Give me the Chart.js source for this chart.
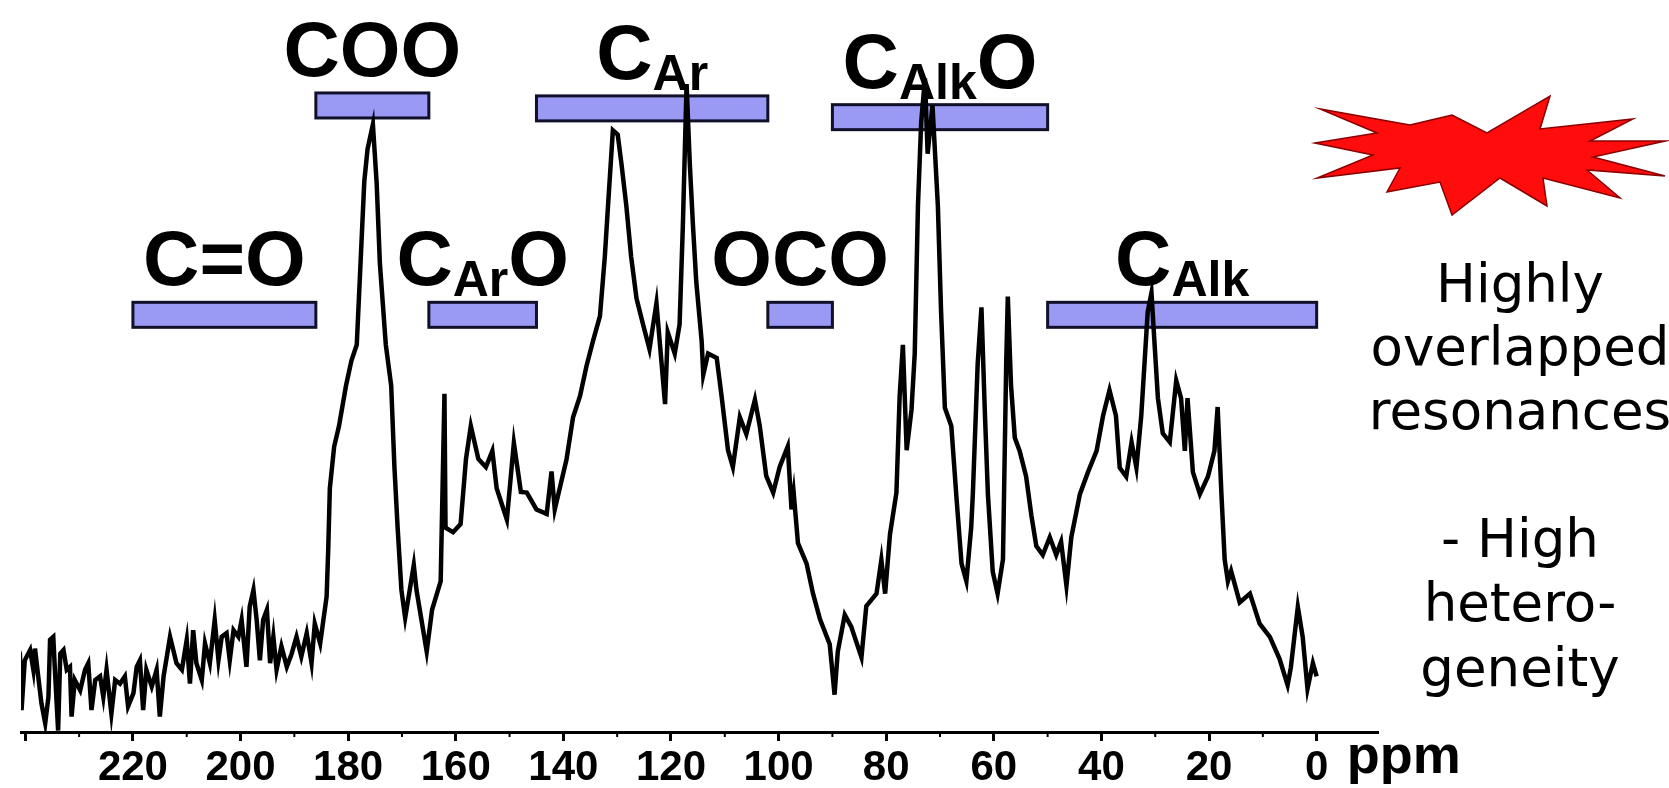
<!DOCTYPE html>
<html>
<head>
<meta charset="utf-8">
<script src="https://cdn.jsdelivr.net/npm/chart.js@4.4.1/dist/chart.umd.min.js"></script>
<style>
    html, body { margin: 0; padding: 0; background: #fff; }
    #wrap { width: 1669px; height: 788px; }
</style>
</head>
<body>
<div id="wrap"><canvas id="nmrChart" width="1669" height="788"></canvas></div>
<script>
// 13C NMR spectrum: chemical shift (ppm) and intensity (% of plot height)
const shiftPpm = [
    241.9, 241.0, 240.7, 240.1, 239.1, 238.5, 238.2, 237.6, 237.0, 236.3, 235.7, 235.4, 234.8, 234.5,
    233.9, 233.5, 232.9, 232.3, 231.7, 231.4, 230.8, 229.8, 228.9, 228.3, 227.7, 227.0, 226.1, 225.5,
    224.9, 224.0, 223.3, 222.4, 221.5, 220.9, 219.9, 219.3, 218.7, 218.1, 217.5, 216.5, 215.6, 215.0,
    214.3, 213.7, 213.1, 212.5, 211.9, 210.9, 210.0, 209.4, 208.8, 208.2, 207.2, 206.6, 205.7, 204.8,
    204.1, 203.5, 202.6, 202.0, 201.3, 200.4, 199.8, 198.9, 198.3, 197.6, 197.0, 196.4, 195.8, 195.1,
    194.5, 193.9, 193.3, 192.4, 191.4, 190.5, 189.6, 188.7, 187.7, 186.8, 186.2, 185.2, 184.6, 184.0,
    183.7, 183.4, 182.6, 181.7, 180.4, 179.4, 178.4, 177.7, 177.0,
    176.4, 175.4, 174.7, 174.1, 173.0, 172.0, 171.4, 170.8, 170.1, 169.4, 167.8, 167.3, 165.4, 164.4,
    162.8, 162.1, 161.9, 160.5, 159.1, 158.1, 157.2, 155.8, 154.4, 153.2, 152.4, 150.5, 149.2, 147.9,
    146.8, 145.0, 143.1, 142.2, 141.6, 139.4, 138.2, 136.9, 135.7, 134.5, 133.2, 132.3, 131.7, 130.8,
    129.9, 129.2, 128.3, 127.4, 126.4, 125.2, 124.0, 122.7, 122.1, 121.1, 120.6, 119.3, 118.4, 117.8,
    117.1, 116.5, 115.9, 115.3, 114.3, 114.0, 113.1, 111.5, 110.6, 109.4, 108.5, 107.2, 106.0, 104.4,
    103.5, 102.3, 101.0, 99.8, 98.3, 97.6, 97.2, 96.4, 94.8, 93.6, 92.3, 90.5, 89.6, 89.0,
    87.7, 86.5, 84.6, 83.7, 81.8, 80.9, 80.2, 79.3, 78.1, 77.5, 76.9, 76.2, 75.3, 74.7,
    74.1, 73.5, 72.8, 72.3, 71.4, 70.4, 69.8, 69.1, 67.9, 66.9, 66.0, 65.1, 64.2, 63.9,
    63.0, 62.3, 61.7, 61.1, 60.2, 59.3, 58.3, 57.7, 57.4, 56.8, 56.1, 55.2, 54.0, 53.0,
    52.1, 50.9, 49.6, 48.4, 47.5, 46.5, 45.6, 44.0, 42.5, 40.9, 39.7, 38.5, 37.3, 36.6,
    35.4, 34.4, 33.5, 32.6, 32.0, 31.4, 30.7, 30.1, 29.5, 28.6, 27.3, 26.1, 25.2, 24.5,
    24.0, 23.0, 21.7, 20.2, 19.0, 18.4, 17.7, 17.1, 16.5, 15.9, 14.3, 12.4, 10.6, 8.7,
    6.9, 5.4, 4.8, 3.5, 2.6, 1.7, 0.7, 0.0
];
const intensity = [
    12.6, 10.7, 3.0, 9.8, 11.2, 8.5, 11.4, 7.6, 3.9, 1.2, 4.8, 12.6, 13.0, 8.5,
    0.2, 10.7, 11.2, 8.5, 8.9, 2.1, 7.1, 5.7, 8.5, 9.4, 3.0, 7.1, 7.6, 4.8,
    8.5, 2.5, 7.1, 6.6, 7.6, 3.5, 5.3, 8.9, 9.8, 3.0, 8.5, 6.2, 8.5, 2.1,
    7.6, 10.3, 13.0, 11.2, 9.4, 8.5, 12.6, 6.6, 13.9, 9.4, 7.1, 12.1, 9.4, 15.3,
    9.8, 13.0, 13.5, 9.8, 13.9, 13.0, 15.3, 8.9, 17.1, 19.4, 15.3, 9.8, 15.3, 16.7,
    9.4, 13.0, 8.5, 11.7, 8.9, 10.7, 13.0, 10.3, 13.5, 9.4, 14.8, 12.1, 15.3, 18.5,
    25.0, 33.3, 39.0, 41.8, 47.3, 50.7, 52.9, 64.0, 75.2,
    79.6, 83.0, 75.0, 64.0, 52.9, 47.3, 36.2, 27.9, 19.4, 15.6, 22.8, 19.4, 11.0, 16.7,
    20.6, 46.2, 27.9, 27.3, 28.4, 37.3, 41.8, 37.3, 36.2, 38.4, 33.3, 29.0, 39.5, 32.8,
    32.7, 30.4, 29.8, 35.6, 30.4, 37.3, 43.0, 45.9, 50.0, 53.4, 56.8, 64.9, 71.9, 82.2,
    81.6, 77.6, 71.9, 64.9, 59.2, 55.7, 52.3, 58.6, 53.4, 44.8, 54.6, 51.7, 55.7, 69.0,
    88.5, 77.6, 69.0, 61.5, 53.4, 48.8, 51.7, 51.1, 45.9, 38.5, 36.2, 43.0, 40.7, 45.4,
    41.8, 35.0, 32.7, 36.2, 39.0, 30.4, 32.7, 25.8, 23.0, 18.9, 15.4, 12.0, 5.1, 11.0,
    16.0, 14.4, 10.2, 17.2, 18.9, 23.5, 18.9, 27.0, 32.7, 45.9, 52.9, 38.5, 44.0, 51.7,
    71.9, 83.3, 89.3, 79.0, 85.6, 71.9, 57.4, 44.3, 41.8, 31.6, 23.0, 20.6, 28.0, 32.5,
    50.3, 58.0, 44.4, 32.5, 21.9, 18.9, 23.6, 50.3, 59.5, 47.3, 40.2, 38.4, 34.9, 29.5,
    25.4, 24.2, 26.6, 24.2, 26.0, 20.0, 26.6, 32.5, 35.5, 38.4, 43.2, 46.7, 43.2, 36.1,
    34.9, 39.6, 36.1, 43.2, 50.3, 57.4, 60.0, 52.7, 45.6, 40.8, 39.6, 48.0, 45.6, 38.4,
    45.6, 35.5, 32.5, 34.9, 38.4, 44.4, 32.5, 23.6, 20.6, 22.0, 17.7, 18.9, 14.8, 13.0,
    10.0, 6.4, 8.8, 17.1, 13.0, 5.9, 9.4, 7.6
];

// functional group regions (ppm) and their labels; middle part is the subscript
const regionMain = ['C=O', 'C', 'C', 'C', 'OCO', 'C', 'C'];
const regionSub = ['', '', 'Ar', 'Ar', '', 'Alk', 'Alk'];
const regionTail = ['', 'OO', 'O', '', '', 'O', ''];
const regionFrom = [220, 186, 165, 145, 102, 90, 50];
const regionTo = [186, 165, 145, 102, 90, 50, 0];

// x axis ticks
const tickValues = [240, 220, 200, 180, 160, 140, 120, 100, 80, 60, 40, 20, 0];
const tickLabels = ['', '220', '200', '180', '160', '140', '120', '100', '80', '60', '40', '20', '0'];
const minorTicks = [230, 210, 190, 170, 150, 130, 110, 90, 70, 50, 30, 10];
const axisTitle = 'ppm';

// side notes
const notes = ['Highly', 'overlapped', 'resonances', '- High', 'hetero-', 'geneity'];

const SANS = '"Liberation Sans", Arial, sans-serif';
const NOTE_FONT = '"DejaVu Sans", Verdana, sans-serif';

// box layout: top edge (intensity units) for each region, alternate rows
const boxTop = [58.7, 87.3, 58.7, 86.9, 58.7, 85.7, 58.7];
const boxHeightPx = 25;

const regionPlugin = {
    id: 'regions',
    beforeDatasetsDraw(chart) {
        const { ctx, scales: { x, y } } = chart;
        ctx.save();
        regionFrom.forEach((from, i) => {
            const x1 = x.getPixelForValue(from);
            const x2 = x.getPixelForValue(regionTo[i]);
            const top = y.getPixelForValue(boxTop[i]);
            ctx.fillStyle = '#9a9af5';
            ctx.strokeStyle = '#10102a';
            ctx.lineWidth = 3;
            ctx.fillRect(x1, top, x2 - x1, boxHeightPx);
            ctx.strokeRect(x1, top, x2 - x1, boxHeightPx);

            // label centred over the box
            const big = 'bold 78px ' + SANS;
            const small = 'bold 50px ' + SANS;
            ctx.font = big;
            const w1 = ctx.measureText(regionMain[i]).width;
            const w3 = ctx.measureText(regionTail[i]).width;
            ctx.font = small;
            const w2 = ctx.measureText(regionSub[i]).width;
            let lx = (x1 + x2) / 2 - (w1 + w2 + w3) / 2;
            const base = top - 17;
            ctx.fillStyle = '#000';
            ctx.textBaseline = 'alphabetic';
            ctx.textAlign = 'left';
            ctx.font = big;
            ctx.fillText(regionMain[i], lx, base);
            lx += w1;
            ctx.font = small;
            ctx.fillText(regionSub[i], lx, base + 11);
            lx += w2;
            ctx.font = big;
            ctx.fillText(regionTail[i], lx, base);
        });
        ctx.restore();
    },
    afterDraw(chart) {
        const { ctx, scales: { x } } = chart;
        const axisY = chart.chartArea.bottom;
        ctx.save();

        // minor ticks
        ctx.strokeStyle = '#000';
        ctx.lineWidth = 2;
        minorTicks.forEach(v => {
            const px = x.getPixelForValue(v);
            ctx.beginPath();
            ctx.moveTo(px, axisY);
            ctx.lineTo(px, axisY + 5);
            ctx.stroke();
        });

        // axis unit
        ctx.fillStyle = '#000';
        ctx.font = 'bold 54px ' + SANS;
        ctx.textAlign = 'left';
        ctx.textBaseline = 'alphabetic';
        ctx.fillText(axisTitle, x.getPixelForValue(0) + 30, axisY + 41);

        // red burst
        const star = [
            [1315, 143], [1377, 133], [1320, 109], [1410, 125], [1452, 115], [1487, 133],
            [1550, 96], [1540, 129], [1633, 119], [1590, 141], [1665, 141], [1593, 157],
            [1665, 176], [1587, 170], [1620, 198], [1543, 178], [1547, 206], [1500, 178],
            [1452, 215], [1440, 182], [1387, 192], [1400, 168], [1317, 178], [1373, 155]
        ];
        ctx.beginPath();
        star.forEach(([sx, sy], i) => i ? ctx.lineTo(sx, sy) : ctx.moveTo(sx, sy));
        ctx.closePath();
        ctx.fillStyle = '#ff0d0d';
        ctx.fill();
        ctx.strokeStyle = '#8a0000';
        ctx.lineWidth = 1.5;
        ctx.stroke();

        // side notes
        ctx.font = '53px ' + NOTE_FONT;
        ctx.textAlign = 'center';
        ctx.fillStyle = '#000';
        const baselines = [302, 365, 429, 557, 621, 686];
        notes.forEach((t, i) => ctx.fillText(t, 1520, baselines[i]));
        ctx.restore();
    }
};

const ctx = document.getElementById('nmrChart').getContext('2d');

const chart = new Chart(ctx, {
    type: 'scatter',
    data: {
        datasets: [{
            data: shiftPpm.map((p, i) => ({ x: p, y: intensity[i] })),
            showLine: true,
            borderColor: '#000',
            borderWidth: 4.5,
            borderJoinStyle: 'miter',
            pointRadius: 0,
            tension: 0
        }]
    },
    options: {
        responsive: false,
        animation: false,
        devicePixelRatio: 1,
        layout: { padding: { left: 21, right: 291, top: 0, bottom: 0 } },
        plugins: { legend: { display: false }, tooltip: { enabled: false } },
        scales: {
            x: {
                type: 'linear',
                reverse: true,
                min: -11.4,
                max: 240.8,
                afterBuildTicks: s => { s.ticks = tickValues.map(v => ({ value: v })); },
                afterFit: s => { s.height = 56; },
                ticks: {
                    autoSkip: false,
                    maxRotation: 0,
                    padding: 2,
                    color: '#000',
                    font: { family: SANS, size: 42, weight: 'bold' },
                    callback: (v, i) => tickLabels[i]
                },
                grid: {
                    drawOnChartArea: false,
                    drawTicks: true,
                    tickLength: 9,
                    tickWidth: 3,
                    tickColor: '#000'
                },
                border: { display: true, color: '#000', width: 3 }
            },
            y: {
                display: false,
                min: 0,
                max: 100
            }
        }
    },
    plugins: [regionPlugin]
});
</script>
</body>
</html>
